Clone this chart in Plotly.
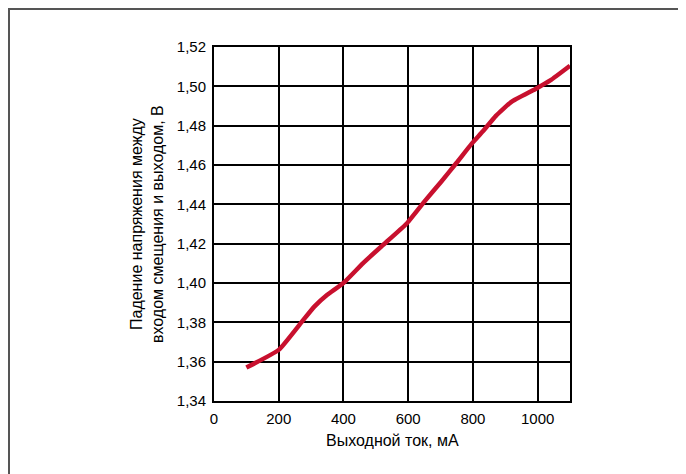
import plotly.graph_objects as go

current_ma = [100, 200, 270, 310, 350, 400, 460, 520, 594, 648, 702, 749, 797, 830, 871, 918, 992, 1039, 1100]
voltage_v = [1.357, 1.366, 1.380, 1.388, 1.394, 1.400, 1.410, 1.419, 1.430, 1.441, 1.4515, 1.461, 1.471, 1.477, 1.485, 1.492, 1.4985, 1.503, 1.5105]

x_ticks = [0, 200, 400, 600, 800, 1000]
y_ticks = [1.34, 1.36, 1.38, 1.40, 1.42, 1.44, 1.46, 1.48, 1.50, 1.52]
y_tick_labels = ["1,34", "1,36", "1,38", "1,40", "1,42", "1,44", "1,46", "1,48", "1,50", "1,52"]

x_title = "Выходной ток, мА"
y_title = "Падение напряжения между<br>входом смещения и выходом, В"

OFF = 8  # page body margin
W, H = 686, 474
L, T = 214 - OFF, 47 - OFF
pw, ph = 356, 354
R, B = W - L - pw, H - T - ph

FONT = "Liberation Sans, Arial, sans-serif"

fig = go.Figure()
fig.add_trace(go.Scatter(x=current_ma, y=voltage_v, mode="lines",
                         line=dict(color="#C8102E", width=4.5, shape="spline", smoothing=0.4),
                         hoverinfo="skip", showlegend=False))

axis_common = dict(showgrid=True, gridcolor="#000000", gridwidth=1.5, zeroline=False,
                   showline=True, linecolor="#000000", linewidth=2, mirror=True,
                   ticks="", tickfont=dict(family=FONT, size=15, color="#000"))

fig.update_xaxes(range=[0, 1100], tickvals=x_ticks, ticktext=[str(v) for v in x_ticks],
                 ticklabelstandoff=3, **axis_common)
fig.update_yaxes(range=[1.34, 1.52], tickvals=y_ticks, ticktext=y_tick_labels,
                 ticklabelstandoff=3, **axis_common)

fig.add_annotation(text=x_title, xref="paper", yref="paper", x=0.5, y=-(440 - 401) / ph,
                   showarrow=False, yanchor="middle", xanchor="center",
                   font=dict(family=FONT, size=16, color="#000"))
fig.add_annotation(text=y_title, xref="paper", yref="paper", x=(147 - 214) / pw, y=0.5,
                   showarrow=False, textangle=-90, xanchor="center", yanchor="middle",
                   font=dict(family=FONT, size=16, color="#000"))

# outer frame (open to the right and bottom edge of the image)
fig.add_shape(type="rect", xref="paper", yref="paper",
              x0=(9 - 214) / pw, x1=(W + 20 - 214) / pw,
              y0=-(H + 20 - 401) / ph, y1=(401 - 9) / ph,
              line=dict(color="#555555", width=2), layer="below")

fig.update_layout(width=W, height=H, margin=dict(l=L, r=R, t=T, b=B),
                  paper_bgcolor="white", plot_bgcolor="white")

fig.write_html("out.html")
